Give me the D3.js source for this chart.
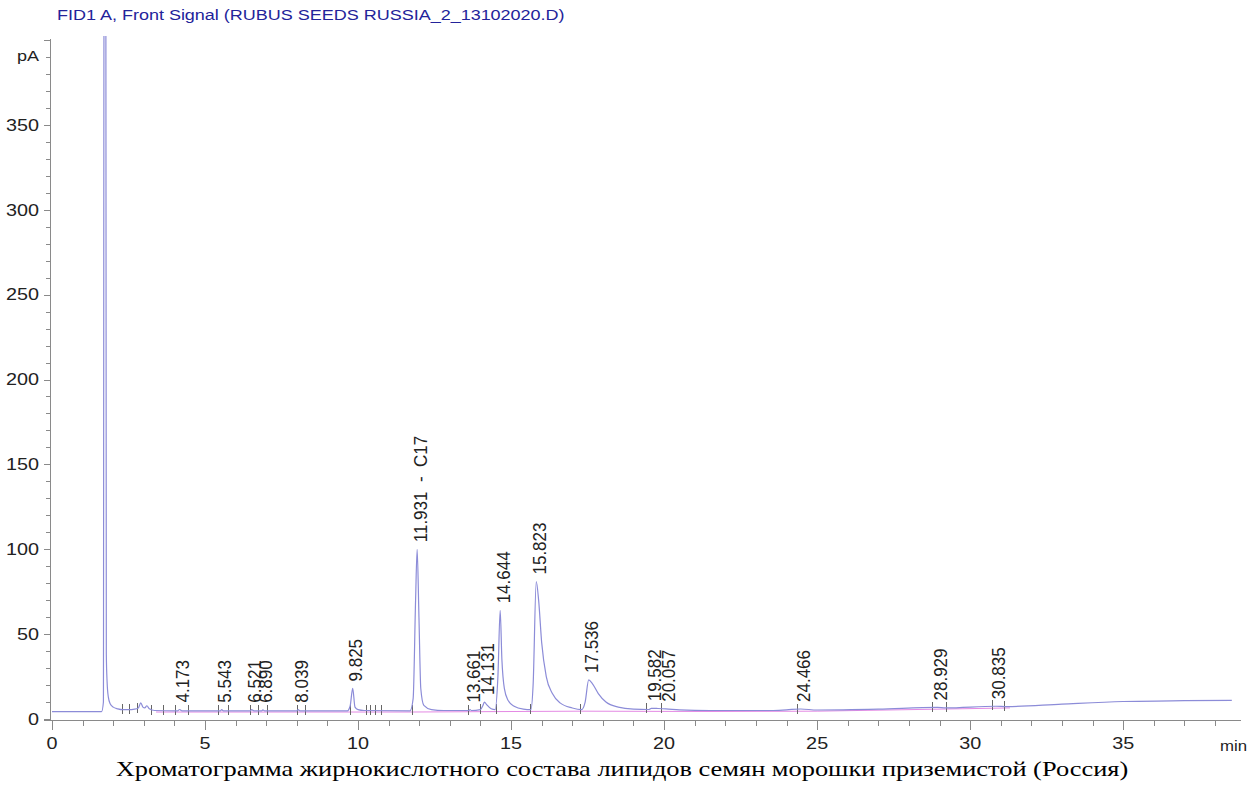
<!DOCTYPE html>
<meta charset="utf-8">
<html>
  <style>
    body, html{ margin: 0; background: #fff;}
    .title{ font: 15px Arial, "Liberation Sans", sans-serif; fill: #23239a; }
    .axis line, .axis path{ stroke: #8a8a8a; fill: none; shape-rendering: crispEdges; }
    .axis text{ font: 16.5px Arial, "Liberation Sans", sans-serif; fill: #222; }
    .trace{ stroke: #8c8cd8; stroke-width: 1.2; fill: none; }
    .base{ stroke: #e48ae4; stroke-width: 1; fill: none; }
    .event{ stroke: #666; stroke-width: 1; shape-rendering: crispEdges; }
    .peak{ font: 17px Arial, "Liberation Sans", sans-serif; fill: #222; white-space: pre; }
    .caption{ font: 22px "Times New Roman", "Liberation Serif", serif; fill: #000; }
  </style>
  <body>
    <svg></svg>
    <script src="https://cdn.jsdelivr.net/npm/d3@7"></script>
    <script>
// signal trace (min, pA)
var traceT = [0, 1.62, 1.68, 1.70, 1.76, 1.775, 1.80, 1.84, 1.90, 2.0, 2.15, 2.3, 2.5, 2.7, 2.82, 2.9, 2.97, 3.03, 3.1, 3.18, 3.35,
    4.1, 4.173, 4.25, 5.5, 5.543, 5.6, 6.48, 6.521, 6.6, 6.85, 6.89, 6.95, 8.0, 8.039, 8.1,
    9.65, 9.74, 9.825, 9.9, 10.0, 10.2, 11.7, 11.8, 11.88, 11.931, 11.99, 12.05, 12.15, 12.4, 12.8,
    13.62, 13.661, 13.7, 14.0, 14.08, 14.131, 14.2, 14.35, 14.48, 14.57, 14.644, 14.70, 14.78, 14.9, 15.1, 15.4,
    15.65, 15.72, 15.823, 15.9, 16.0, 16.15, 16.35, 16.6, 17.0, 17.3, 17.42, 17.536, 17.65, 17.85, 18.1, 18.5,
    19.0, 19.5, 19.582, 19.8, 20.057, 20.5, 21.5, 23.5, 24.0, 24.466, 25.0, 27.0, 28.929, 29.2, 30.835, 31.2,
    33.0, 35.0, 37.0, 38.55]
var traceY = [4.3, 4.3, 10, 420, 420, 38, 22, 13, 9, 7, 6, 5.5, 5.5, 5.8, 6.5, 9.5, 7, 6.5, 7.8, 6, 5,
    4.8, 5.6, 4.8, 4.8, 5.5, 4.8, 4.8, 5.5, 4.8, 4.8, 5.4, 4.8, 4.8, 5.5, 4.8,
    4.8, 7.5, 18, 7, 5.5, 5, 4.8, 12, 70, 100, 60, 18, 8, 5.5, 5,
    5, 5.6, 5, 5.5, 8, 10, 8.5, 6, 5.5, 25, 64, 35, 18, 11, 7.5, 5.8,
    5.5, 20, 81, 70, 45, 25, 15, 9.5, 6.5, 5.5, 10, 23, 21, 15, 10, 7,
    5.8, 5.6, 6.3, 6.2, 6.0, 5.4, 5.0, 5.0, 5.4, 5.9, 5.3, 5.8, 6.8, 6.5, 7.5, 7.3,
    8.8, 10.3, 10.8, 11.0]

// integration baseline (pink)
var baseT = [3.4, 11.7, 17.3, 21.5, 25.0, 31.3]
var baseY = [4.7, 4.7, 5.2, 5.0, 5.2, 7.1]

// labelled peaks
var peakRT = [4.173, 5.543, 6.521, 6.890, 8.039, 9.825, 11.931, 13.661, 14.131, 14.644, 15.823, 17.536, 19.582, 20.057, 24.466, 28.929, 30.835]
var peakTop = [5.6, 5.5, 5.5, 5.4, 5.5, 18, 100, 5.6, 10, 64, 81, 23, 6.3, 6.0, 5.9, 6.8, 7.5]
var peakName = ['4.173', '5.543', '6.521', '6.890', '8.039', '9.825', '11.931  -  C17', '13.661', '14.131', '14.644', '15.823', '17.536', '19.582', '20.057', '24.466', '28.929', '30.835']

// integration event marks on the baseline
var eventT = [2.28, 2.53, 2.78, 3.25, 3.63, 4.02, 4.45, 5.43, 5.75, 6.47, 6.74, 7.02, 8.0, 8.27, 9.74, 10.26, 10.4, 10.55, 10.75,
    11.76, 13.6, 14.0, 14.5, 15.62, 17.26, 19.4, 19.9, 24.35, 28.75, 29.2, 30.7, 31.1]
var eventY = [5.5, 5.5, 5.6, 5, 4.8, 4.8, 4.8, 4.8, 4.8, 4.8, 4.8, 4.8, 4.8, 4.8, 4.8, 5, 5, 5, 5,
    4.8, 5, 5.5, 5.5, 5.5, 5.5, 5.6, 6, 5.4, 6.7, 6.5, 7.4, 7.3]

var yTicks = [0, 50, 100, 150, 200, 250, 300, 350]
var xTicks = [0, 5, 10, 15, 20, 25, 30, 35]

var w = 1247, h = 791
  , sx = 1.2   // the source picture is stretched sideways
  , svg = d3.select('svg').attr('width', w).attr('height', h)
  , x = d3.scaleLinear().domain([0, 38.85]).range([52, 1241])
  , y = d3.scaleLinear().domain([0, 400]).range([719, 40])
  , x0 = 50, yAx = 720
  , place = function(px, py){ return 'translate(' + px + ',' + py + ') scale(' + sx + ',1)' }

svg.append('text').attr('class', 'title').attr('transform', place(57, 20))
  .text('FID1 A, Front Signal (RUBUS SEEDS RUSSIA_2_13102020.D)')

// y axis
var ya = svg.append('g').attr('class', 'axis')
ya.append('line').attr('x1', x0 + 0.5).attr('x2', x0 + 0.5).attr('y1', y(400) - 1).attr('y2', yAx)
ya.selectAll('.minor').data(d3.range(0, 401, 10)).enter().append('line')
  .attr('x1', function(d){ return d % 50 ? x0 - 4 : x0 - 6 }).attr('x2', x0)
  .attr('y1', function(d){ return Math.round(y(d)) + 0.5 }).attr('y2', function(d){ return Math.round(y(d)) + 0.5 })
ya.selectAll('text').data(yTicks).enter().append('text')
  .attr('transform', function(d){ return place(39, y(d)) }).attr('dy', '0.35em')
  .attr('text-anchor', 'end').text(function(d){ return d })
ya.append('text').attr('transform', place(39, y(391))).attr('dy', '0.35em').attr('text-anchor', 'end')
  .style('font-size', '15px').text('pA')

// x axis
var xa = svg.append('g').attr('class', 'axis')
xa.append('line').attr('x1', 44).attr('x2', 1241).attr('y1', yAx + 0.5).attr('y2', yAx + 0.5)
xa.selectAll('.minor').data(d3.range(0, 39, 1)).enter().append('line')
  .attr('x1', function(d){ return Math.round(x(d)) + 0.5 }).attr('x2', function(d){ return Math.round(x(d)) + 0.5 })
  .attr('y1', yAx).attr('y2', function(d){ return d % 5 ? yAx + 6 : yAx + 10 })
xa.selectAll('text').data(xTicks).enter().append('text')
  .attr('transform', function(d){ return place(x(d), 743) }).attr('dy', '0.35em')
  .attr('text-anchor', 'middle').text(function(d){ return d })
xa.append('text').attr('transform', place(1220, 746)).attr('dy', '0.35em')
  .style('font-size', '14px').text('min')

// plot area clip
svg.append('clipPath').attr('id', 'clip').append('rect')
  .attr('x', x0 + 1).attr('y', 36).attr('width', 1200).attr('height', yAx - 36)

var plot = svg.append('g').attr('clip-path', 'url(#clip)')

plot.append('path').attr('class', 'base')
  .attr('d', d3.line().x(function(d){ return x(baseT[d]) }).y(function(d){ return y(baseY[d]) + 1 })(d3.range(baseT.length)))

plot.selectAll('.event').data(d3.range(eventT.length)).enter().append('line').attr('class', 'event')
  .attr('x1', function(d){ return Math.round(x(eventT[d])) + 0.5 }).attr('x2', function(d){ return Math.round(x(eventT[d])) + 0.5 })
  .attr('y1', function(d){ return y(eventY[d]) - 6 }).attr('y2', function(d){ return y(eventY[d]) + 4 })

plot.append('path').attr('class', 'trace')
  .attr('d', d3.line().curve(d3.curveMonotoneX)
    .x(function(d){ return x(traceT[d]) }).y(function(d){ return y(traceY[d]) })(d3.range(traceT.length)))

// peak labels
svg.selectAll('.peak').data(d3.range(peakRT.length)).enter().append('text').attr('class', 'peak')
  .attr('transform', function(d){ return 'translate(' + (x(peakRT[d]) + 3) + ',' + (y(peakTop[d]) - 7) + ') rotate(-90) scale(1,1.1)' })
  .attr('dy', '0.35em').text(function(d){ return peakName[d] })

svg.append('text').attr('class', 'caption').attr('transform', place(622, 776)).attr('text-anchor', 'middle')
  .text('Хроматограмма жирнокислотного состава липидов семян морошки приземистой (Россия)')
    </script>
  </body>
</html>
